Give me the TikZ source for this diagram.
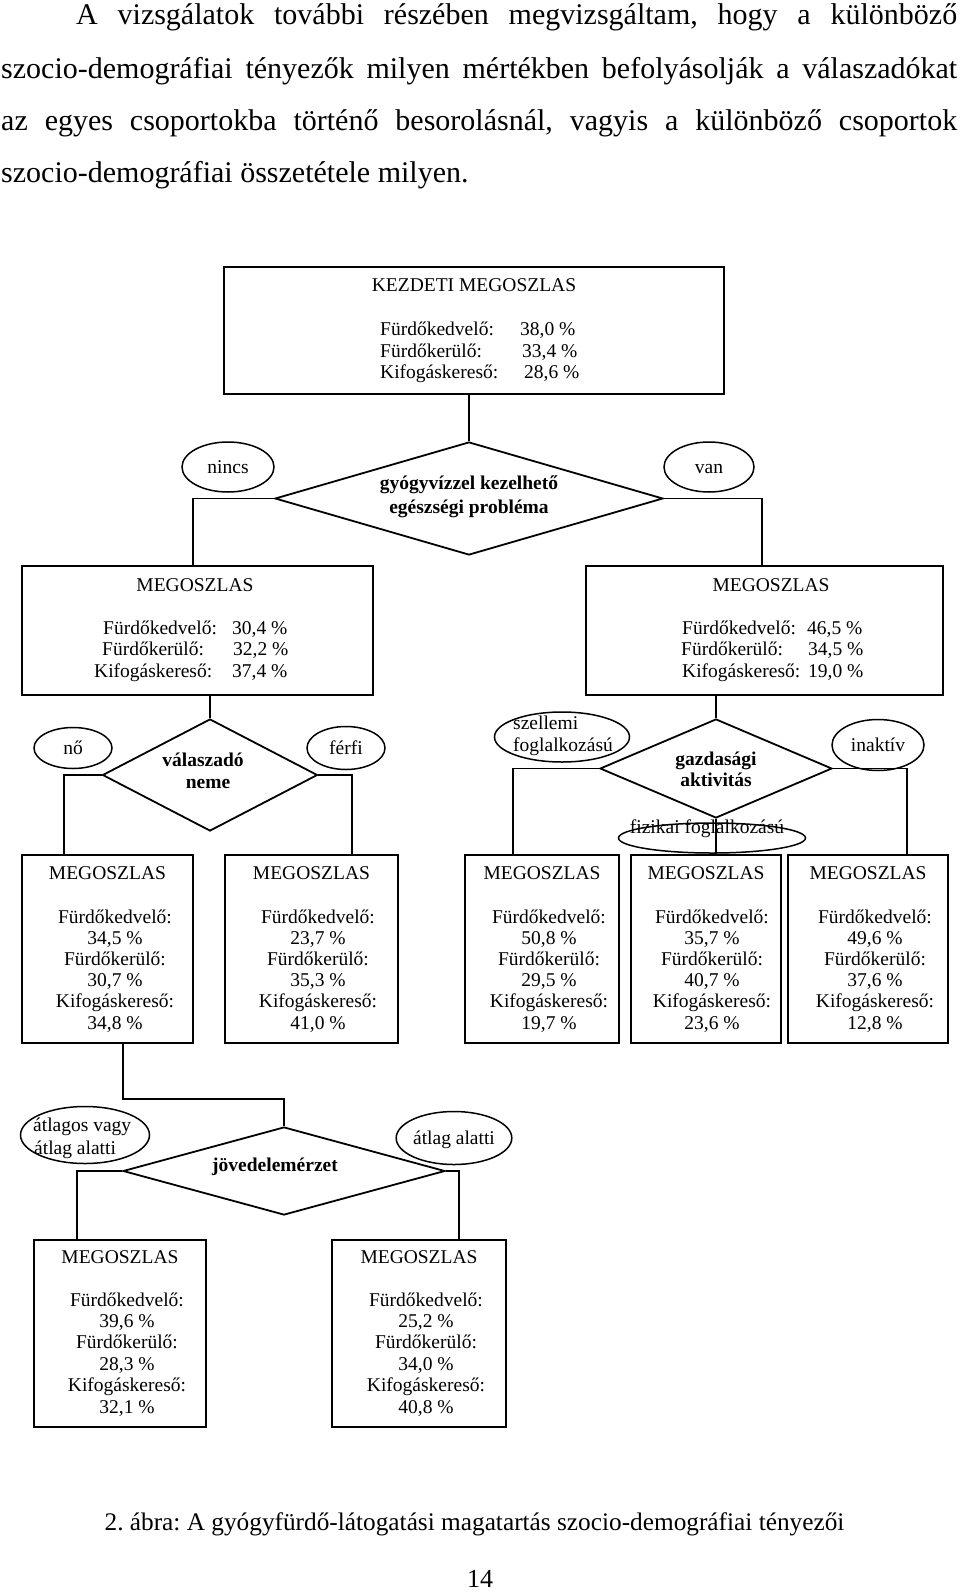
\documentclass[tikz,border=0pt]{standalone}
\usepackage{fontspec}
\setmainfont{Liberation Serif}
\usetikzlibrary{shapes.geometric}
\frenchspacing
\newcommand\dgfont{\fontsize{19.5}{21.2}\selectfont}
\newcommand\dgrows[5]{%
  \foreach \t [count=\i] in {#5}{\node[txt, anchor=base] (#1-\i) at (#2, {#3+(\i-1)*#4}) {\t};}}
\tikzset{
  box/.style={draw, line width=2pt, inner sep=0pt},
  dia/.style={draw, diamond, line width=1.8pt, inner sep=0pt},
  oval/.style={draw, ellipse, line width=1.5pt, inner sep=0pt, font=\dgfont, text height=13pt, text depth=1pt},
  conn/.style={line width=1.8pt},
  txt/.style={inner sep=0pt, font=\dgfont},
  btxt/.style={inner sep=0pt, font=\dgfont\bfseries},
  para/.style={inner sep=0pt, anchor=base west, font=\fontsize{30}{52}\selectfont},
}
\begin{document}
\begin{tikzpicture}[x=1pt,y=-1pt]
\fill[white] (0,0) rectangle (960,1595);
\useasboundingbox (0,0) rectangle (960,1595);

% paragraph
\node[para] (p1) at (76,25) {\makebox[881pt][s]{A vizsgálatok további részében megvizsgáltam, hogy a különböző}};
\node[para] (p2) at (1,78) {\makebox[956pt][s]{szocio-demográfiai tényezők milyen mértékben befolyásolják a válaszadókat}};
\node[para] (p3) at (1,130) {\makebox[956pt][s]{az egyes csoportokba történő besorolásnál, vagyis a különböző csoportok}};
\node[para] (p4) at (1,182) {szocio-demográfiai összetétele milyen.};

% boxes
\node[box, minimum width=500pt, minimum height=127pt] (k) at (474,330.5) {};
\node[box, minimum width=351pt, minimum height=129pt] (m1) at (197.5,630.5) {};
\node[box, minimum width=357pt, minimum height=129pt] (m2) at (764.5,630.5) {};
\node[box, minimum width=171pt, minimum height=188pt] (A) at (107.5,949) {};
\node[box, minimum width=173pt, minimum height=188pt] (B) at (311.5,949) {};
\node[box, minimum width=154pt, minimum height=188pt] (C) at (542,949) {};
\node[box, minimum width=150pt, minimum height=188pt] (D) at (706,949) {};
\node[box, minimum width=160pt, minimum height=188pt] (E) at (868,949) {};
\node[box, minimum width=172pt, minimum height=187pt] (F) at (120,1333.5) {};
\node[box, minimum width=174pt, minimum height=187pt] (G) at (419,1333.5) {};

% diamonds
\node[dia, minimum width=388pt, minimum height=113pt] (d1) at (469,498.5) {};
\node[dia, minimum width=215pt, minimum height=112pt] (d2) at (210,775) {};
\node[dia, minimum width=232pt, minimum height=99pt] (d3) at (716,768.5) {};
\node[dia, minimum width=322pt, minimum height=88pt] (d4) at (284,1171) {};

% ellipses
\node[oval, minimum width=92pt, minimum height=50pt] (enincs) at (228,467) {nincs};
\node[oval, minimum width=90pt, minimum height=50pt] (evan) at (709,467) {van};
\node[oval, minimum width=78pt, minimum height=41pt] (eno) at (73,748) {nő};
\node[oval, minimum width=78pt, minimum height=43pt] (eferfi) at (346,748) {férfi};
\node[oval, minimum width=135pt, minimum height=50pt] (eszell) at (562,737) {};
\node[oval, minimum width=92pt, minimum height=51pt] (einakt) at (878,745) {inaktív};
\node[oval, minimum width=187pt, minimum height=30pt] (efiz) at (712,838) {};
\node[oval, minimum width=129pt, minimum height=57pt] (eatl1) at (85,1135) {};
\node[oval, minimum width=105pt, minimum height=53pt] (eatl2) at (454,1138) {átlag alatti};

% connectors
\draw[conn] (k.south -| d1.north) -- (d1.north);
\draw[conn] (d1.west) -| ([xshift=-4.5pt]m1.north);
\draw[conn] (d1.east) -| ([xshift=-2.5pt]m2.north);
\draw[conn] (m1.south -| d2.north) -- (d2.north);
\draw[conn] (d2.west) -| ([xshift=-43.5pt]A.north);
\draw[conn] (d2.east) -| ([xshift=40.5pt]B.north);
\draw[conn] (m2.south -| d3.north) -- (d3.north);
\draw[conn] (d3.west) -| ([xshift=-29pt]C.north);
\draw[conn] (d3.east) -| ([xshift=39pt]E.north);
\draw[conn] (d3.south) -- (d3.south |- D.north);
\draw[conn] ([xshift=15.5pt]A.south) -- ++(0,55) -| (d4.north);
\draw[conn] (d4.west) -| ([xshift=-43pt]F.north);
\draw[conn] (d4.east) -| ([xshift=40pt]G.north);

% KEZDETI text
\node[txt, anchor=base] (kt) at (474,291) {KEZDETI MEGOSZLAS};
\node[txt, anchor=base west] (k1) at (380,335) {Fürdőkedvelő:};
\node[txt, anchor=base west] (k2) at (380,357) {Fürdőkerülő:};
\node[txt, anchor=base west] (k3) at (380,378) {Kifogáskereső:};
\node[txt, anchor=base west] (k1v) at (520,335) {38,0 \%};
\node[txt, anchor=base west] (k2v) at (522,357) {33,4 \%};
\node[txt, anchor=base west] (k3v) at (524,378) {28,6 \%};

% m1 text
\node[txt, anchor=base] (m1t) at (195,591) {MEGOSZLAS};
\node[txt, anchor=base west] (m11) at (103,634) {Fürdőkedvelő:};
\node[txt, anchor=base west] (m12) at (102,655) {Fürdőkerülő:};
\node[txt, anchor=base west] (m13) at (94,677) {Kifogáskereső:};
\node[txt, anchor=base west] (m11v) at (232,634) {30,4 \%};
\node[txt, anchor=base west] (m12v) at (233,655) {32,2 \%};
\node[txt, anchor=base west] (m13v) at (232,677) {37,4 \%};

% m2 text
\node[txt, anchor=base] (m2t) at (771,591) {MEGOSZLAS};
\node[txt, anchor=base west] (m21) at (682,634) {Fürdőkedvelő:};
\node[txt, anchor=base west] (m22) at (681,655) {Fürdőkerülő:};
\node[txt, anchor=base west] (m23) at (682,677) {Kifogáskereső:};
\node[txt, anchor=base west] (m21v) at (807,634) {46,5 \%};
\node[txt, anchor=base west] (m22v) at (808,655) {34,5 \%};
\node[txt, anchor=base west] (m23v) at (808,677) {19,0 \%};

% bottom row boxes text
\node[txt, anchor=base] (At) at (107.5,879) {MEGOSZLAS};
\dgrows{Ar}{115}{923}{21.2}{Fürdőkedvelő:, {34,5 \%}, Fürdőkerülő:, {30,7 \%}, Kifogáskereső:, {34,8 \%}}
\node[txt, anchor=base] (Bt) at (311.5,879) {MEGOSZLAS};
\dgrows{Br}{318}{923}{21.2}{Fürdőkedvelő:, {23,7 \%}, Fürdőkerülő:, {35,3 \%}, Kifogáskereső:, {41,0 \%}}
\node[txt, anchor=base] (Ct) at (542,879) {MEGOSZLAS};
\dgrows{Cr}{549}{923}{21.2}{Fürdőkedvelő:, {50,8 \%}, Fürdőkerülő:, {29,5 \%}, Kifogáskereső:, {19,7 \%}}
\node[txt, anchor=base] (Dt) at (706,879) {MEGOSZLAS};
\dgrows{Dr}{712}{923}{21.2}{Fürdőkedvelő:, {35,7 \%}, Fürdőkerülő:, {40,7 \%}, Kifogáskereső:, {23,6 \%}}
\node[txt, anchor=base] (Et) at (868,879) {MEGOSZLAS};
\dgrows{Er}{875}{923}{21.2}{Fürdőkedvelő:, {49,6 \%}, Fürdőkerülő:, {37,6 \%}, Kifogáskereső:, {12,8 \%}}

% last boxes text
\node[txt, anchor=base] (Ft) at (120,1263) {MEGOSZLAS};
\dgrows{Fr}{127}{1306}{21.4}{Fürdőkedvelő:, {39,6 \%}, Fürdőkerülő:, {28,3 \%}, Kifogáskereső:, {32,1 \%}}
\node[txt, anchor=base] (Gt) at (419,1263) {MEGOSZLAS};
\dgrows{Gr}{426}{1306}{21.4}{Fürdőkedvelő:, {25,2 \%}, Fürdőkerülő:, {34,0 \%}, Kifogáskereső:, {40,8 \%}}

% diamond texts
\node[btxt, anchor=base] (d1a) at (469,489) {gyógyvízzel kezelhető};
\node[btxt, anchor=base] (d1b) at (469,513) {egészségi probléma};
\node[btxt, anchor=base] (d2a) at (203,766) {válaszadó};
\node[btxt, anchor=base] (d2b) at (208,788) {neme};
\node[btxt, anchor=base] (d3a) at (716,765) {gazdasági};
\node[btxt, anchor=base] (d3b) at (716,786) {aktivitás};
\node[btxt, anchor=base] (d4a) at (275,1171) {jövedelemérzet};

% ellipse texts placed off-centre
\node[txt, anchor=base west] (sz1) at (513,729) {szellemi};
\node[txt, anchor=base west] (sz2) at (513,751) {foglalkozású};
\node[txt, anchor=base] (fiz) at (707,833) {fizikai foglalkozású};
\node[txt, anchor=base west] (at1) at (33,1131) {átlagos vagy};
\node[txt, anchor=base west] (at2) at (34,1154) {átlag alatti};

% caption and page number
\node[inner sep=0pt, anchor=base, font=\fontsize{25.3}{30}\selectfont] (cap) at (474.5,1530) {2. ábra: A gyógyfürdő-látogatási magatartás szocio-demográfiai tényezői};
\node[inner sep=0pt, anchor=base, font=\fontsize{26}{30}\selectfont] (pg) at (480,1587) {14};
\end{tikzpicture}
\end{document}
